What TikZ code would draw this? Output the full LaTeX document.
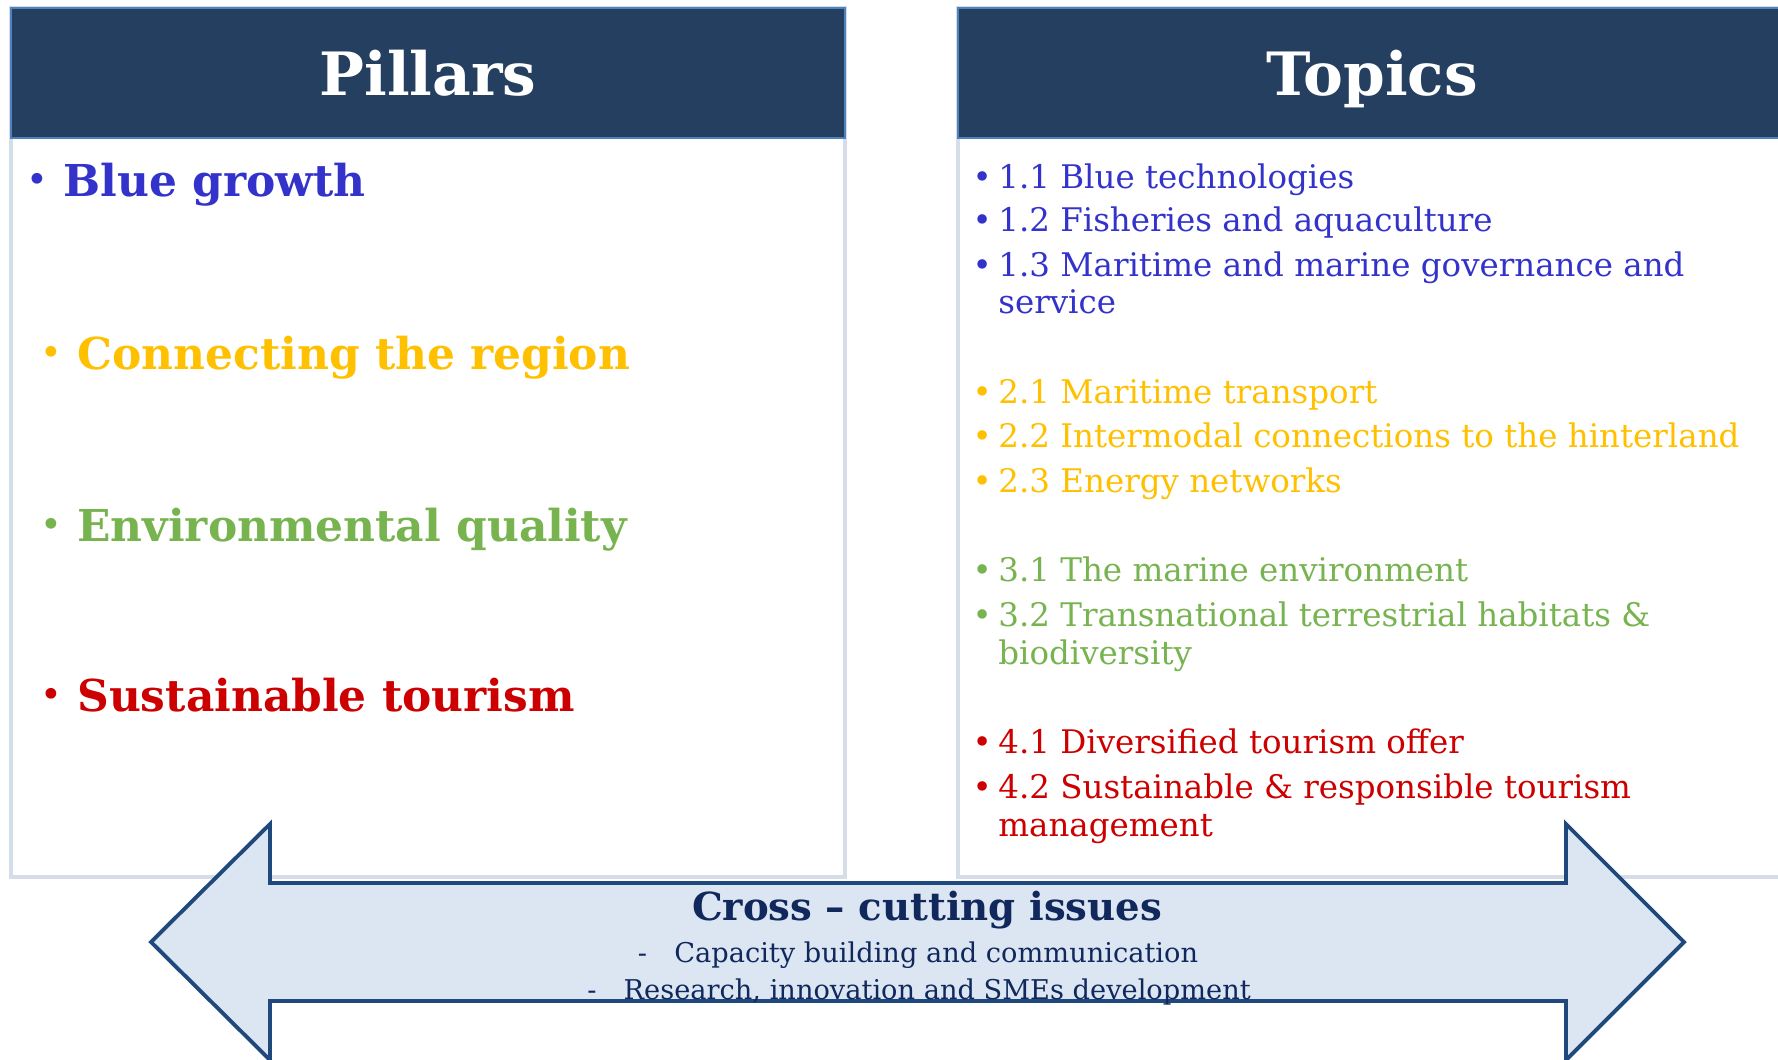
\documentclass[tikz,border=0pt]{standalone}
\usepackage{fontspec}
\setmainfont{DejaVu Serif}
\usetikzlibrary{positioning}

\definecolor{headnavy}{HTML}{243F60}
\definecolor{headedge}{HTML}{4F81BD}
\definecolor{paneledge}{HTML}{D5DDE9}
\definecolor{pillarblue}{HTML}{3333CC}
\definecolor{pillaryellow}{HTML}{FFC000}
\definecolor{pillargreen}{HTML}{77B450}
\definecolor{pillarred}{HTML}{CC0000}
\definecolor{arrowfill}{HTML}{DCE6F2}
\definecolor{arrowedge}{HTML}{1F497D}
\definecolor{crossnavy}{HTML}{10285C}

\newcommand{\pbul}{\llap{\raisebox{0.08em}{\mdseries\fontsize{21}{24}\selectfont\textbullet}\hspace{0.35em}}}
\newcommand{\tbul}{\llap{\textbullet\hspace{0.2em}}}

\tikzset{
  pxgrid/.style={x=0.02cm, y=-0.02cm},
  panel/.style={fill=white, draw=paneledge, line width=2pt},
  header/.style={fill=headnavy, draw=headedge, line width=1.2pt},
  headtitle/.style={text=white, inner sep=0pt, anchor=base, font=\fontsize{34}{40}\selectfont\bfseries},
  pillar/.style={inner sep=0pt, anchor=base west, font=\fontsize{25}{30}\selectfont\bfseries},
  topic/.style={inner sep=0pt, anchor=base west, font=\fontsize{18.5}{22}\selectfont},
  crossline/.style={inner sep=0pt, anchor=base, text=crossnavy, font=\fontsize{15.5}{19}\selectfont},
  bigarrow/.style={fill=arrowfill, draw=arrowedge, line width=2.2pt, line join=miter},
}

\begin{document}
\begin{tikzpicture}[pxgrid]
\useasboundingbox (0,0) rectangle (1778,1059);
\clip (0,0) rectangle (1778,1059);

% panels
\draw[panel] (11,8) rectangle (845,877);
\draw[panel] (958,8) rectangle (1800,877);
\draw[header] (11,8) rectangle (845,138);
\draw[header] (958,8) rectangle (1800,138);

\node[headtitle] (pillars) at (428,95) {Pillars};
\node[headtitle] (topics) at (1372,95) {Topics};

% pillars
\node[pillar, text=pillarblue] (blue) at (63,196) {\pbul Blue growth};
\node[pillar, text=pillaryellow] (connect) at (77,369) {\pbul Connecting the region};
\node[pillar, text=pillargreen] (environ) at (77,541) {\pbul Environmental quality};
\node[pillar, text=pillarred] (tourism) at (77,711) {\pbul Sustainable tourism};

% topics
\node[topic, text=pillarblue] (t11) at (998,188) {\tbul 1.1 Blue technologies};
\node[topic, text=pillarblue] (t12) at (998,231) {\tbul 1.2 Fisheries and aquaculture};
\node[topic, text=pillarblue] (t13) at (998,276) {\tbul 1.3 Maritime and marine governance and};
\node[topic, text=pillarblue] (t13b) at (998,313) {service};
\node[topic, text=pillaryellow] (t21) at (998,403) {\tbul 2.1 Maritime transport};
\node[topic, text=pillaryellow] (t22) at (998,447) {\tbul 2.2 Intermodal connections to the hinterland};
\node[topic, text=pillaryellow] (t23) at (998,492) {\tbul 2.3 Energy networks};
\node[topic, text=pillargreen] (t31) at (998,581) {\tbul 3.1 The marine environment};
\node[topic, text=pillargreen] (t32) at (998,626) {\tbul 3.2 Transnational terrestrial habitats \&};
\node[topic, text=pillargreen] (t32b) at (998,664) {biodiversity};
\node[topic, text=pillarred] (t41) at (998,753) {\tbul 4.1 Diversified tourism offer};
\node[topic, text=pillarred] (t42) at (998,798) {\tbul 4.2 Sustainable \& responsible tourism};
\node[topic, text=pillarred] (t42b) at (998,836) {management};

% cross-cutting arrow
\draw[bigarrow] (151,942) -- (270,824) -- (270,883) -- (1566,883) -- (1566,824)
  -- (1684,942) -- (1566,1060) -- (1566,1001) -- (270,1001) -- (270,1060) -- cycle;

\node[crossline, font=\fontsize{22}{26}\selectfont\bfseries] (cross) at (927,920) {Cross – cutting issues};
\node[crossline] (crossa) at (918,962) {-\hspace{1em}Capacity building and communication};
\node[crossline] (crossb) at (919,999) {-\hspace{1em}Research, innovation and SMEs development};
\end{tikzpicture}
\end{document}
